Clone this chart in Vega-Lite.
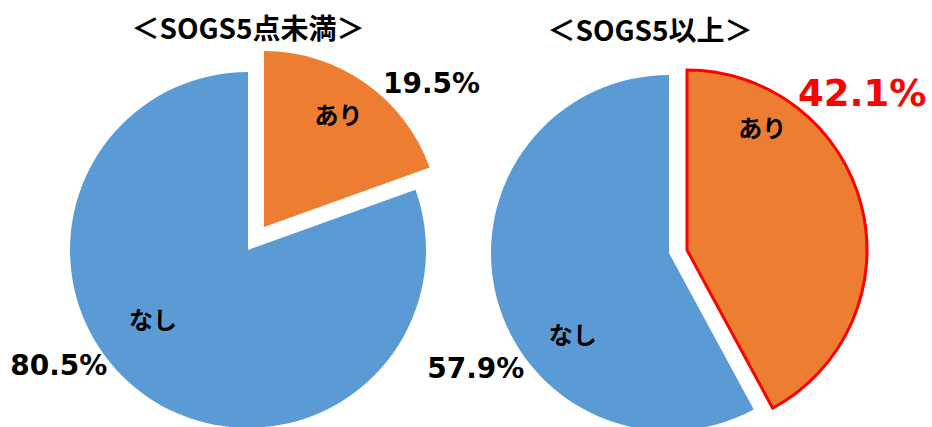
{
  "$schema": "https://vega.github.io/schema/vega-lite/v6.json",
  "datasets": {
    "low": [
      {"cat": "あり", "value": 19.5, "ord": 1, "label": "19.5%"},
      {"cat": "なし", "value": 80.5, "ord": 2, "label": "80.5%"}
    ],
    "high": [
      {"cat": "あり", "value": 42.1, "ord": 1, "label": "42.1%"},
      {"cat": "なし", "value": 57.9, "ord": 2, "label": "57.9%"}
    ]
  },
  "bounds": "flush",
  "padding": {"left": 10, "top": 17, "right": 0, "bottom": 0},
  "spacing": 21,
  "config": {
    "view": {"stroke": null},
    "font": "Noto Sans CJK JP",
    "title": {"fontSize": 28, "fontWeight": "bold", "font": "Noto Sans CJK JP", "color": "#000000"},
    "text": {"font": "Noto Sans CJK JP", "fontWeight": "bold", "color": "#000000"}
  },
  "hconcat": [
    {
      "width": 400,
      "height": 356,
      "data": {"name": "low"},
      "title": {"text": "＜SOGS5点未満＞", "offset": 6},
      "encoding": {
        "theta": {"field": "value", "type": "quantitative", "stack": true},
        "order": {"field": "ord", "type": "quantitative"}
      },
      "layer": [
        {
          "mark": {"type": "arc", "radius": 178},
          "encoding": {
            "color": {"field": "cat", "type": "nominal", "scale": {"domain": ["あり", "なし"], "range": ["#ED7D31", "#5B9BD5"]}, "legend": null},
            "opacity": {"condition": {"test": "datum.cat === 'なし'", "value": 1}, "value": 0}
          }
        },
        {
          "mark": {"type": "arc", "radius": 176, "xOffset": 16, "yOffset": -23},
          "encoding": {
            "color": {"field": "cat", "type": "nominal", "scale": {"domain": ["あり", "なし"], "range": ["#ED7D31", "#5B9BD5"]}, "legend": null},
            "opacity": {"condition": {"test": "datum.cat === 'あり'", "value": 1}, "value": 0}
          }
        },
        {
          "mark": {"type": "text", "radius": 140, "dx": 10, "dy": -18, "fontSize": 24},
          "encoding": {"text": {"condition": {"test": "datum.cat === 'あり'", "field": "cat"}, "value": ""}}
        },
        {
          "mark": {"type": "text", "radius": 220, "dx": 57, "dy": 15, "fontSize": 28, "font": "DejaVu Sans"},
          "encoding": {"text": {"condition": {"test": "datum.cat === 'あり'", "field": "label"}, "value": ""}}
        },
        {
          "mark": {"type": "text", "radius": 120, "dx": -26, "dy": -26, "fontSize": 24},
          "encoding": {"text": {"condition": {"test": "datum.cat === 'なし'", "field": "cat"}, "value": ""}}
        },
        {
          "mark": {"type": "text", "radius": 150, "dx": -103, "dy": -6, "fontSize": 28, "font": "DejaVu Sans"},
          "encoding": {"text": {"condition": {"test": "datum.cat === 'なし'", "field": "label"}, "value": ""}}
        }
      ]
    },
    {
      "width": 400,
      "height": 356,
      "data": {"name": "high"},
      "title": {"text": "＜SOGS5以上＞", "dx": -19, "offset": 17},
      "encoding": {
        "theta": {"field": "value", "type": "quantitative", "stack": true},
        "order": {"field": "ord", "type": "quantitative"}
      },
      "layer": [
        {
          "mark": {"type": "arc", "radius": 178, "yOffset": 3},
          "encoding": {
            "color": {"field": "cat", "type": "nominal", "scale": {"domain": ["あり", "なし"], "range": ["#ED7D31", "#5B9BD5"]}, "legend": null},
            "opacity": {"condition": {"test": "datum.cat === 'なし'", "value": 1}, "value": 0}
          }
        },
        {
          "mark": {"type": "arc", "radius": 180, "xOffset": 18, "yOffset": 0, "stroke": "#FF0000", "strokeWidth": 3},
          "encoding": {
            "color": {"field": "cat", "type": "nominal", "scale": {"domain": ["あり", "なし"], "range": ["#ED7D31", "#5B9BD5"]}, "legend": null},
            "opacity": {"condition": {"test": "datum.cat === 'あり'", "value": 1}, "value": 0}
          }
        },
        {
          "mark": {"type": "text", "radius": 120, "dx": -23, "dy": -91, "fontSize": 24},
          "encoding": {"text": {"condition": {"test": "datum.cat === 'あり'", "field": "cat"}, "value": ""}}
        },
        {
          "mark": {"type": "text", "radius": 220, "dx": -20, "dy": -101, "fontSize": 37, "font": "DejaVu Sans", "color": "#FF0000"},
          "encoding": {"text": {"condition": {"test": "datum.cat === 'あり'", "field": "label"}, "value": ""}}
        },
        {
          "mark": {"type": "text", "radius": 120, "dx": 20, "dy": 58, "fontSize": 24},
          "encoding": {"text": {"condition": {"test": "datum.cat === 'なし'", "field": "cat"}, "value": ""}}
        },
        {
          "mark": {"type": "text", "radius": 220, "dx": 20, "dy": 66, "fontSize": 28, "font": "DejaVu Sans"},
          "encoding": {"text": {"condition": {"test": "datum.cat === 'なし'", "field": "label"}, "value": ""}}
        }
      ]
    }
  ]
}
